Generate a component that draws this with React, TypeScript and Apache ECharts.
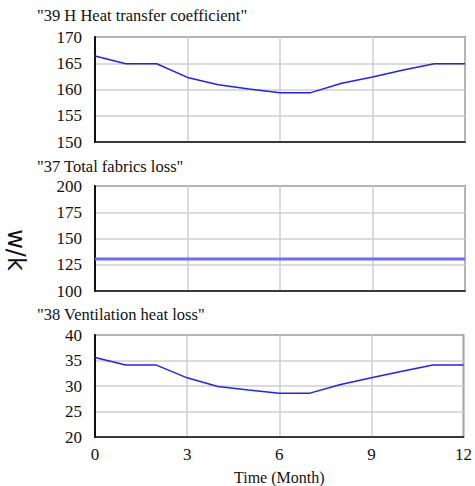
import React, { useEffect, useRef } from "react";
import * as echarts from "echarts";

const months = [0, 1, 2, 3, 4, 5, 6, 7, 8, 9, 10, 11, 12];
const heatTransfer = [166.4, 164.9, 164.9, 162.3, 160.9, 160.1, 159.4, 159.4, 161.2, 162.4, 163.7, 164.9, 164.9];
const fabricsLoss = [130.5, 130.5, 130.5, 130.5, 130.5, 130.5, 130.5, 130.5, 130.5, 130.5, 130.5, 130.5, 130.5];
const ventilationLoss = [35.6, 34.1, 34.1, 31.6, 29.9, 29.2, 28.6, 28.6, 30.3, 31.6, 32.9, 34.1, 34.1];
const panelTitles = ['"39 H Heat transfer coefficient"', '"37 Total fabrics loss"', '"38 Ventilation heat loss"'];
const yRanges = [
  { min: 150, max: 170, interval: 5 },
  { min: 100, max: 200, interval: 25 },
  { min: 20, max: 40, interval: 5 },
];
const xAxisName = "Time (Month)";
const unitLabel = "w/k";

const serif = "Liberation Serif";

export default function App() {
  const ref = useRef<HTMLDivElement>(null);
  useEffect(() => {
    if (!ref.current) return;
    const chart = echarts.init(ref.current, null, { renderer: "svg" });
    const tops = [37, 186, 335];
    const titleY = [16, 167, 315];
    const seriesData = [heatTransfer, fabricsLoss, ventilationLoss];
    const grids = tops.map((t) => ({
      left: 95,
      top: t,
      width: 370,
      height: 105,
      show: true,
      borderColor: "#333",
      borderWidth: 1.5,
      backgroundColor: "#fff",
    }));
    const xAxes = tops.map((_, i) => ({
      type: "value",
      gridIndex: i,
      min: 0,
      max: 12,
      interval: 3,
      axisLine: { show: true, lineStyle: { color: "#111", width: 1.5 } },
      axisTick: { show: false },
      axisLabel: {
        show: i === 2,
        color: "#111",
        fontFamily: serif,
        fontSize: 17,
        margin: 9,
      },
      splitLine: { show: true, lineStyle: { color: "#cfcfcf", width: 1.5 } },
      name: i === 2 ? xAxisName : "",
      nameLocation: "middle",
      nameGap: 32,
      nameTextStyle: { color: "#111", fontFamily: serif, fontSize: 16 },
    }));
    const yAxes = yRanges.map((r, i) => ({
      type: "value",
      gridIndex: i,
      min: r.min,
      max: r.max,
      interval: r.interval,
      axisLine: { show: true, lineStyle: { color: "#111", width: 2 } },
      axisTick: { show: false },
      axisLabel: {
        color: "#111",
        fontFamily: serif,
        fontSize: 17,
        margin: 13,
      },
      splitLine: { show: true, lineStyle: { color: "#cfcfcf", width: 1.5 } },
    }));
    const series = seriesData.map((d, i) => ({
      type: "line",
      xAxisIndex: i,
      yAxisIndex: i,
      data: months.map((m, k) => [m, d[k]]),
      showSymbol: false,
      symbol: "none",
      lineStyle: i === 1 ? { color: "#6b6bff", width: 3 } : { color: "#1f1fff", width: 1.5 },
      z: 5,
    }));
    const graphic: any[] = panelTitles.map((t, i) => ({
      type: "text",
      left: 37,
      top: titleY[i] - 9,
      style: { text: t, fontFamily: serif, fontSize: 16.5, fill: "#111" },
    }));
    graphic.push({
      type: "text",
      x: 16,
      y: 250,
      rotation: -Math.PI / 2,
      style: {
        text: unitLabel,
        fontFamily: "DejaVu Sans",
        fontSize: 24,
        fill: "#111",
        align: "center",
        verticalAlign: "middle",
      },
    });
    chart.setOption({
      animation: false,
      backgroundColor: "#fff",
      grid: grids,
      xAxis: xAxes,
      yAxis: yAxes,
      series,
      graphic,
    });
    return () => chart.dispose();
  }, []);
  return <div ref={ref} style={{ width: 475, height: 486, position: "absolute", left: 0, top: 0 }} />;
}
